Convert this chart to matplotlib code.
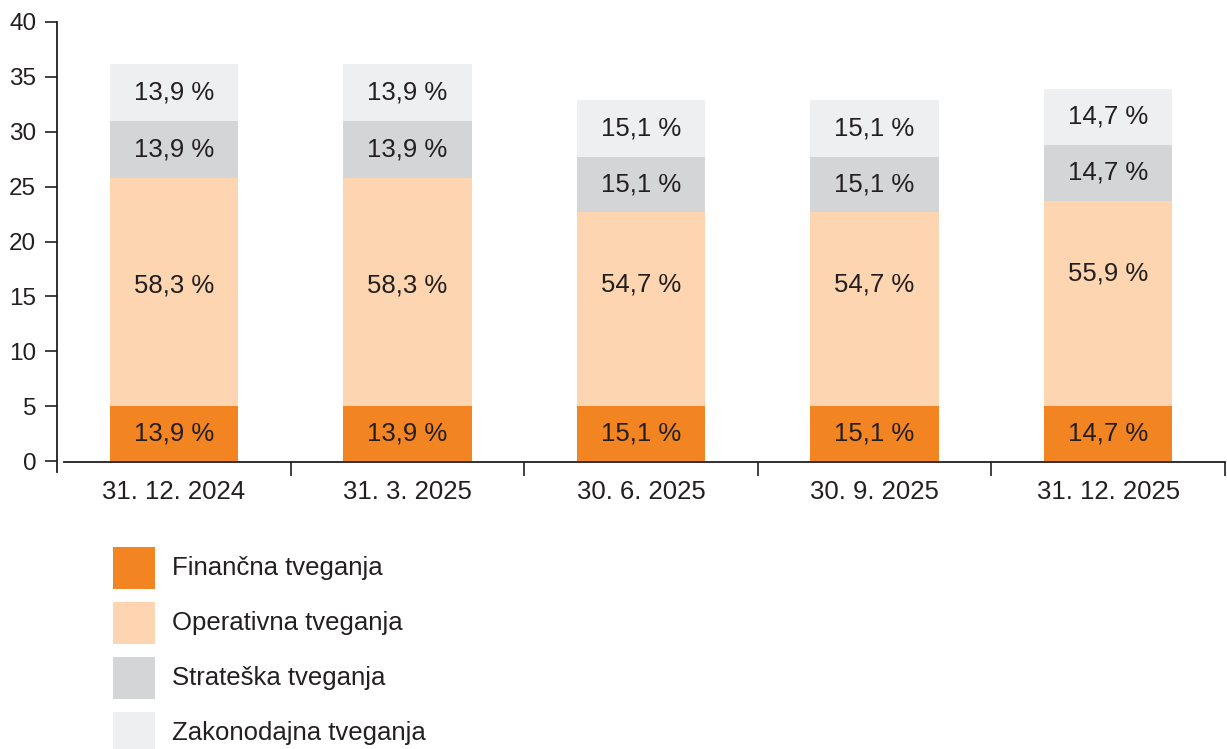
import matplotlib
matplotlib.use("Agg")
import matplotlib.pyplot as plt
from matplotlib.patches import Rectangle

plt.rcParams['font.family'] = ['Liberation Sans', 'DejaVu Sans']

# ---- data ----
dates = ["31. 12. 2024", "31. 3. 2025", "30. 6. 2025", "30. 9. 2025", "31. 12. 2025"]
series_names = ["Finančna tveganja", "Operativna tveganja", "Strateška tveganja", "Zakonodajna tveganja"]
financial = [5.0, 5.0, 5.0, 5.0, 5.0]
operative = [20.8, 20.8, 17.7, 17.7, 18.7]
strategic = [5.2, 5.2, 5.0, 5.0, 5.1]
legislative = [5.2, 5.2, 5.2, 5.2, 5.1]
pct_financial = ["13,9 %", "13,9 %", "15,1 %", "15,1 %", "14,7 %"]
pct_operative = ["58,3 %", "58,3 %", "54,7 %", "54,7 %", "55,9 %"]
pct_strategic = ["13,9 %", "13,9 %", "15,1 %", "15,1 %", "14,7 %"]
pct_legislative = ["13,9 %", "13,9 %", "15,1 %", "15,1 %", "14,7 %"]
y_ticks = [0, 5, 10, 15, 20, 25, 30, 35, 40]

# ---- style ----
colors = ["#F28422", "#FDD5B1", "#D4D5D7", "#EEEFF1"]
text_c = "#231F20"
# vertical nudge (pixels) of the value labels inside the operative segment
op_label_nudge_px = [7, 7, 25, 25, 30]

W, H = 1227, 749
fig = plt.figure(figsize=(W / 100, H / 100), dpi=100)
ax_left, ax_right = 57 / W, 1225 / W
ax_bot, ax_top = 1 - 472 / H, 1 - 22 / H
ax = fig.add_axes([ax_left, ax_bot, ax_right - ax_left, ax_top - ax_bot])

x = list(range(len(dates)))
series = [financial, operative, strategic, legislative]
labels = [pct_financial, pct_operative, pct_strategic, pct_legislative]
bottom = [0.0] * len(dates)
bar_w = 0.55
for si, (vals, labs, col) in enumerate(zip(series, labels, colors)):
    ax.bar(x, vals, bottom=bottom, width=bar_w, color=col, linewidth=0, zorder=2)
    for xi, v, b, lab in zip(x, vals, bottom, labs):
        dy = op_label_nudge_px[xi] * 0.72 if si == 1 else 0
        ax.annotate(lab, (xi, b + v / 2), xytext=(0, dy), textcoords='offset points',
                    ha='center', va='center', fontsize=18.5, color=text_c, zorder=3)
    bottom = [b + v for b, v in zip(bottom, vals)]

ax.set_xlim(-0.5, 4.5)
ax.set_ylim(-1.0, 40)

for s in ['top', 'right']:
    ax.spines[s].set_visible(False)
ax.spines['left'].set_bounds(-1.0, 40)
ax.spines['left'].set_color(text_c)
ax.spines['left'].set_linewidth(1.3)
ax.spines['bottom'].set_position(('data', -0.1))
ax.spines['bottom'].set_bounds(-0.47, 4.5)
ax.spines['bottom'].set_color(text_c)
ax.spines['bottom'].set_linewidth(1.3)

ax.set_yticks(y_ticks)
ax.set_yticklabels([str(t) for t in y_ticks])
ax.tick_params(axis='y', length=9, width=1.2, color=text_c, labelsize=17.5, labelcolor=text_c, pad=6)

ax.set_xticks([i + 0.5 for i in x])
ax.set_xticklabels([])
ax.set_xticks(x, minor=True)
ax.set_xticklabels(dates, minor=True)
ax.tick_params(axis='x', which='major', length=10, width=1.2, color=text_c, direction='out')
ax.tick_params(axis='x', which='minor', length=0, labelsize=18.5, labelcolor=text_c, pad=13)

# legend
leg_x = 113 / W
leg_w = 42 / W
leg_h = 42 / H
leg_tops = [547, 602, 657, 712]
for name, col, top in zip(series_names, colors, leg_tops):
    fig.add_artist(Rectangle((leg_x, 1 - (top + 42) / H), leg_w, leg_h,
                             transform=fig.transFigure, facecolor=col, edgecolor='none'))
    fig.text(172 / W, 1 - (top + 21) / H, name, ha='left', va='center', fontsize=18.5, color=text_c)

fig.savefig("out.png", dpi=100)
